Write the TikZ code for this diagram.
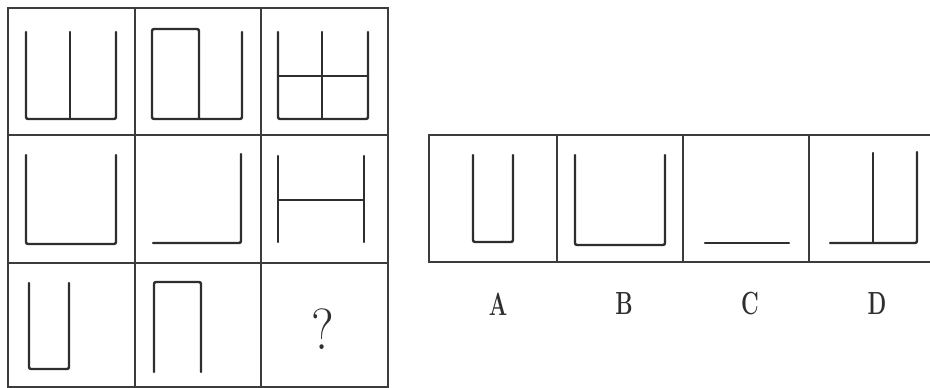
\documentclass[tikz,border=0pt]{standalone}
\usepackage{graphicx}
\usetikzlibrary{positioning}
\definecolor{pzInk}  {HTML}{2E2E2E}
\definecolor{pzRule} {HTML}{3C3C3C}
\newcommand{\narrow}[2]{\scalebox{#1}[1]{#2}}

\begin{document}
\begin{tikzpicture}[x=1pt,y=-1pt,
    fig/.style={draw=pzInk,line width=2.4pt,rounded corners=2pt,line cap=round},
    frame/.style={draw=pzRule,line width=2pt},
    cell/.style={draw=pzRule,line width=1.1pt},
    optlabel/.style={text=pzInk,inner sep=0pt,font=\fontsize{32}{32}\selectfont\bfseries}]
        \clip (0,0) rectangle (930,388);
        \fill[white] (0,0) rectangle (930,388);
        % matrix of figures
        \foreach \x in {135,261} \draw[cell] (\x,8) -- (\x,387);
        \foreach \y in {135,263} \draw[cell] (8,\y) -- (388,\y);
        \draw[frame] (8,8) rectangle (388,387);
        % row 1
        \draw[fig] (26,32) -- (26,119) -- (116,119) -- (116,32);
        \draw[fig] (70,32) -- (70,119);
        \draw[fig] (199,119) -- (199,29) -- (152,29) -- (152,119) -- (242,119) -- (242,32);
        \draw[fig] (278,32) -- (278,119) -- (368,119) -- (368,32);
        \draw[fig] (322,32) -- (322,119);
        \draw[fig] (278,76) -- (368,76);
        % row 2
        \draw[fig] (26,155) -- (26,244) -- (116,244) -- (116,155);
        \draw[fig] (153,243) -- (241,243) -- (241,154);
        \draw[fig] (278,156) -- (278,242);
        \draw[fig] (364,156) -- (364,242);
        \draw[fig] (278,200) -- (364,200);
        % row 3
        \draw[fig] (29,283) -- (29,369) -- (69,369) -- (69,283);
        \draw[fig] (154,372) -- (154,282) -- (201,282) -- (201,372);
        \node[text=pzInk,inner sep=0pt,font=\fontsize{58}{58}\selectfont] (ask) at (323,329) {\narrow{0.9}{?}};
        % options
        \foreach \x in {557,683,809} \draw[cell] (\x,135) -- (\x,262);
        \draw[frame] (940,135) -- (429,135) -- (429,262) -- (940,262);
        \draw[fig] (473,155) -- (473,242) -- (513,242) -- (513,155);
        \draw[fig] (575,155) -- (575,245) -- (665,245) -- (665,155);
        \draw[fig] (705,243) -- (789,243);
        \draw[fig] (830,243) -- (917,243) -- (917,152);
        \draw[fig] (873,153) -- (873,243);
        \node[optlabel] (optA) at (498,304) {\narrow{0.68}{A}};
        \node[optlabel] (optB) at (624,304) {\narrow{0.68}{B}};
        \node[optlabel] (optC) at (750,304) {\narrow{0.68}{C}};
        \node[optlabel] (optD) at (877,304) {\narrow{0.68}{D}};
      \end{tikzpicture}
\end{document}
